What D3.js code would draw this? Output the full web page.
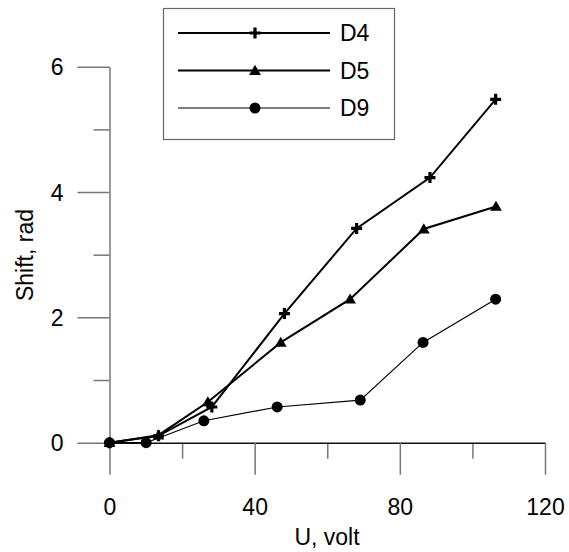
<!DOCTYPE html>
<html>
<head>
<meta charset="utf-8">
<script src="https://cdn.jsdelivr.net/npm/d3@7.9.0/dist/d3.min.js"></script>
<style>
  body { margin: 0; background: #fff; }
  text { font-family: "Liberation Sans", Arial, sans-serif; }
</style>
</head>
<body>
<div id="chart"></div>
<script>
const seriesNames = ['D4', 'D5', 'D9'];
const d4 = [[0, 0], [13.5, 0.11], [28.2, 0.57], [48.2, 2.06], [68.1, 3.42], [88.3, 4.23], [106.4, 5.48]];
const d5 = [[0, 0], [13.5, 0.12], [27.1, 0.65], [47.2, 1.60], [66.3, 2.29], [86.6, 3.41], [106.5, 3.77]];
const d9 = [[0, 0], [10.1, 0], [26.0, 0.35], [46.2, 0.57], [69.1, 0.68], [86.4, 1.60], [106.4, 2.29]];
const xTicks = [0, 40, 80, 120];
const xMinor = [20, 60, 100];
const yTicks = [0, 2, 4, 6];
const yMinor = [1, 3, 5];

const width = 569;
const height = 552;
const fontSize = 23;

const svg = d3.select('#chart').append('svg')
  .attr('width', width)
  .attr('height', height);

const x = d3.scaleLinear().domain([0, 120]).range([109.5, 545]);
const y = d3.scaleLinear().domain([0, 6]).range([442.7, 66.7]);

// minor ticks
svg.append('g')
  .attr('transform', `translate(0, ${y(0)})`)
  .call(d3.axisBottom(x).tickValues(xMinor).tickSize(16).tickSizeOuter(0).tickFormat(''))
  .call(g => g.select('.domain').remove());
svg.append('g')
  .attr('transform', `translate(${x(0)}, 0)`)
  .call(d3.axisLeft(y).tickValues(yMinor).tickSize(16).tickSizeOuter(0).tickFormat(''))
  .call(g => g.select('.domain').remove());

const xAxis = svg.append('g')
  .attr('transform', `translate(0, ${y(0)})`)
  .call(d3.axisBottom(x).tickValues(xTicks).tickFormat(d3.format('d'))
    .tickSize(32).tickSizeOuter(0).tickPadding(24));
const yAxis = svg.append('g')
  .attr('transform', `translate(${x(0)}, 0)`)
  .call(d3.axisLeft(y).tickValues(yTicks).tickFormat(d3.format('d'))
    .tickSize(32).tickSizeOuter(0).tickPadding(14));

svg.selectAll('.tick line').attr('stroke', '#777').attr('stroke-width', 1.5);
xAxis.select('.domain').attr('stroke', '#111').attr('stroke-width', 1.5);
yAxis.select('.domain').attr('stroke', '#777').attr('stroke-width', 1.5);
svg.selectAll('.tick text')
  .attr('font-size', fontSize)
  .attr('font-family', '"Liberation Sans", Arial, sans-serif')
  .attr('fill', '#000');
yAxis.selectAll('.tick text').attr('dy', '0.36em');

svg.append('text')
  .attr('x', 327).attr('y', 545)
  .attr('text-anchor', 'middle')
  .attr('font-size', fontSize)
  .text('U, volt');

svg.append('text')
  .attr('transform', `translate(33, 255) rotate(-90)`)
  .attr('text-anchor', 'middle')
  .attr('font-size', fontSize)
  .text('Shift, rad');

const line = d3.line().x(d => x(d[0])).y(d => y(d[1]));
const series = [
  { name: 'D4', data: d4, width: 2, marker: 'plus' },
  { name: 'D5', data: d5, width: 2, marker: 'triangle' },
  { name: 'D9', data: d9, width: 1.2, marker: 'circle' },
];

function drawMarker(g, type, cx, cy) {
  if (type === 'plus') {
    g.append('path')
      .attr('d', `M${cx - 5.5},${cy}H${cx + 5.5}M${cx},${cy - 5.5}V${cy + 5.5}`)
      .attr('stroke', '#000').attr('stroke-width', 3.2);
  } else if (type === 'triangle') {
    g.append('path')
      .attr('transform', `translate(${cx}, ${cy + 1})`)
      .attr('d', d3.symbol(d3.symbolTriangle, 60)())
      .attr('fill', '#000');
  } else {
    g.append('circle')
      .attr('cx', cx).attr('cy', cy).attr('r', 5.5)
      .attr('fill', '#000');
  }
}

series.forEach(s => {
  svg.append('path')
    .datum(s.data)
    .attr('d', line)
    .attr('fill', 'none')
    .attr('stroke', '#000')
    .attr('stroke-width', s.width);
  const g = svg.append('g');
  s.data.forEach(d => drawMarker(g, s.marker, x(d[0]), y(d[1])));
});

// legend
const legend = svg.append('g');
legend.append('rect')
  .attr('x', 163.5).attr('y', 8.5)
  .attr('width', 231).attr('height', 131)
  .attr('fill', '#fff')
  .attr('stroke', '#666').attr('stroke-width', 1.2);
const legendY = d3.scalePoint().domain(seriesNames).range([33, 108]);
series.forEach(s => {
  const ly = legendY(s.name);
  legend.append('line')
    .attr('x1', 178).attr('x2', 330)
    .attr('y1', ly).attr('y2', ly)
    .attr('stroke', '#000').attr('stroke-width', s.width);
  drawMarker(legend, s.marker, 255, ly);
  legend.append('text')
    .attr('x', 340).attr('y', ly)
    .attr('dy', '0.36em')
    .attr('font-size', fontSize)
    .text(s.name);
});
</script>
</body>
</html>
